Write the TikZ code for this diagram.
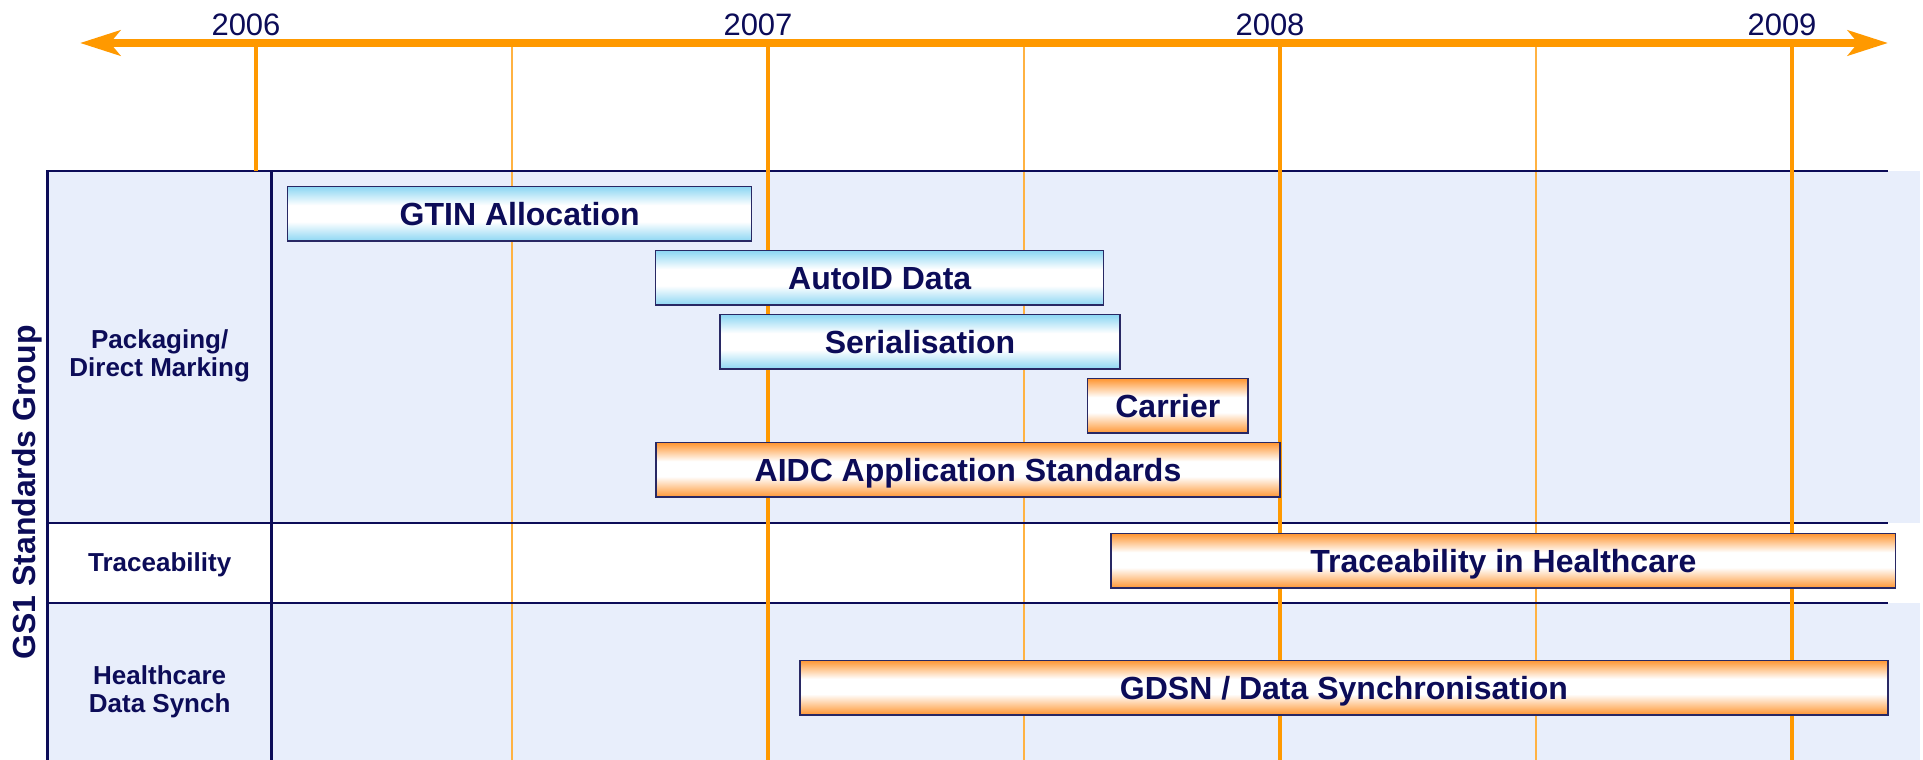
\documentclass[tikz,border=0pt]{standalone}
\usepackage{fontspec}
\setmainfont{Liberation Sans}
\usetikzlibrary{arrows.meta}
\definecolor{navy}{RGB}{12,12,88}
\definecolor{orangeline}{RGB}{255,153,0}
\definecolor{minorline}{RGB}{255,178,66}
\definecolor{bgblue}{RGB}{232,238,251}
\definecolor{barorange}{RGB}{255,150,50}
\definecolor{barblue}{RGB}{140,214,243}
\definecolor{barborder}{RGB}{40,40,100}
\pgfdeclareverticalshading{bluebarshade}{100bp}{color(0bp)=(barblue); color(25bp)=(barblue); color(43bp)=(white); color(58bp)=(white); color(75bp)=(barblue); color(100bp)=(barblue)}
\pgfdeclareverticalshading{orangebarshade}{100bp}{color(0bp)=(barorange); color(25bp)=(barorange); color(44bp)=(white); color(58bp)=(white); color(75bp)=(barorange); color(100bp)=(barorange)}
\tikzset{
  bgfill/.style={fill=bgblue},
  majorline/.style={draw=orangeline, line width=4pt},
  minorl/.style={draw=minorline, line width=2pt},
  border/.style={draw=navy, line width=2.5pt},
  timeaxis/.style={draw=orangeline, line width=7.5pt, {Stealth[length=40pt,width=25pt,inset=10pt]}-{Stealth[length=40pt,width=25pt,inset=10pt]}},
  yearlabel/.style={text=navy, anchor=base, inner sep=0pt, font=\fontsize{31}{36}\selectfont},
  barbase/.style={draw=barborder, line width=1.5pt, anchor=north west, inner sep=0pt, outer sep=0pt, minimum height=54.5pt, text=navy, text height=23pt, text depth=0pt, font=\fontsize{32}{38}\selectfont\bfseries},
  bluebar/.style={barbase, shading=bluebarshade},
  orangebar/.style={barbase, shading=orangebarshade},
  rowlabel/.style={text=navy, align=center, inner sep=0pt, font=\fontsize{26}{28}\selectfont\bfseries},
  grouplabel/.style={text=navy, rotate=90, anchor=base, inner sep=0pt, font=\fontsize{32}{38}\selectfont\bfseries}
}
\begin{document}
\begin{tikzpicture}[x=1pt,y=-1pt]
\useasboundingbox (0,0) rectangle (1923,760);
% row backgrounds
\fill[bgfill] (47.7,171) rectangle (1920,523);
\fill[bgfill] (47.7,603) rectangle (1920,760);
% coordinates
\coordinate (axL) at (80,43);
\coordinate (axR) at (1888,43);
\foreach \n/\x in {a/512,b/1024,c/1536}{
  \coordinate (mt\n) at (\x,43);
  \coordinate (mb\n) at (\x,760);
}
\foreach \n/\x in {y7/768,y8/1280,y9/1792}{
  \coordinate (t\n) at (\x,43);
  \coordinate (b\n) at (\x,760);
}
\coordinate (ty6) at (256,43);
\coordinate (by6) at (256,171);
% minor lines
\foreach \n in {a,b,c}{ \draw[minorl] (mt\n) -- (mb\n); }
% table borders
\coordinate (tl) at (47.7,171);
\coordinate (tr) at (1888,171);
\coordinate (bl) at (47.7,760);
\coordinate (dt) at (271.7,171);
\coordinate (db) at (271.7,760);
\coordinate (r1l) at (47.7,523);
\coordinate (r1r) at (1888,523);
\coordinate (r2l) at (47.7,603);
\coordinate (r2r) at (1888,603);
\draw[border] (bl) -- (tl) -- (tr);
\draw[border] (dt) -- (db);
\draw[border] (r1l) -- (r1r);
\draw[border] (r2l) -- (r2r);
% major lines
\draw[majorline] (ty6) -- (by6);
\foreach \n in {y7,y8,y9}{ \draw[majorline] (t\n) -- (b\n); }
% axis
\draw[timeaxis] (axL) -- (axR);
% year labels
\node[yearlabel] (l2006) at (246,36) {2006};
\node[yearlabel] (l2007) at (758,36) {2007};
\node[yearlabel] (l2008) at (1270,36) {2008};
\node[yearlabel] (l2009) at (1782,36) {2009};
% bars
\node[bluebar, minimum width=464pt] (gtin) at (287.7,186.7) {GTIN Allocation};
\node[bluebar, minimum width=448pt] (autoid) at (655.7,250.7) {AutoID Data};
\node[bluebar, minimum width=400pt] (serial) at (720,314.7) {Serialisation};
\node[orangebar, minimum width=160.3pt] (carrier) at (1087.7,378.7) {Carrier};
\node[orangebar, minimum width=624pt] (aidc) at (656,442.7) {AIDC Application Standards};
\node[orangebar, minimum width=784.7pt] (trace) at (1111,533.7) {Traceability in Healthcare};
\node[orangebar, minimum width=1088pt] (gdsn) at (800,660.3) {GDSN / Data Synchronisation};
% row labels
\node[rowlabel] (pack) at (159.7,356) {Packaging/\\Direct Marking};
\node[rowlabel, anchor=base] (tracel) at (159.7,571.7) {Traceability};
\node[rowlabel] (hds) at (159.7,691.4) {Healthcare\\Data Synch};
% group label
\node[grouplabel] (gs1) at (35,492.5) {GS1 Standards Group};
\end{tikzpicture}
\end{document}
